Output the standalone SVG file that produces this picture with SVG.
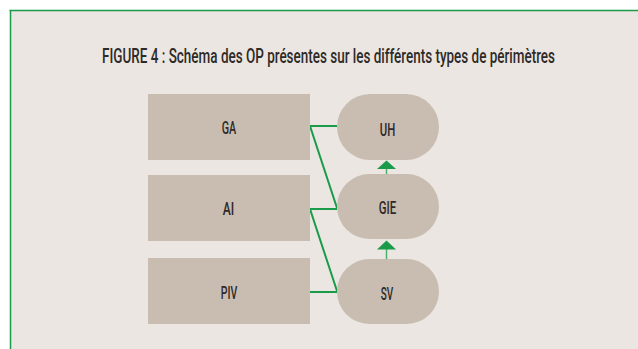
<svg xmlns="http://www.w3.org/2000/svg" width="638" height="349" viewBox="0 0 638 349">
<style>
.box{fill:#c9bdb2}
.lbl{font-family:Roboto,"Liberation Sans",Arial,sans-serif;font-weight:500;font-size:18px;fill:#2e2a28;text-anchor:middle}
.con{stroke:#1a9b4a;stroke-width:2;fill:none}
.stem{stroke:#4cb06a;stroke-width:1.5}
.head{fill:#1a9b4a}
</style>
<rect x="0" y="0" width="638" height="349" fill="#ffffff"/>
<rect x="10" y="10.5" width="628" height="338.5" fill="#ebe6e1"/>
<line x1="9.5" y1="10.5" x2="638" y2="10.5" stroke="#1a9b4a" stroke-width="1.5"/>
<line x1="10.5" y1="10" x2="10.5" y2="349" stroke="#1a9b4a" stroke-width="1.5"/>
<text transform="translate(328.5 63.3) scale(0.72 1)" x="0" y="0" font-family="Roboto,'Liberation Sans',Arial,sans-serif" font-weight="500" font-size="19.5" fill="#2e2a28" text-anchor="middle" textLength="629" lengthAdjust="spacingAndGlyphs">FIGURE 4 : Schéma des OP présentes sur les différents types de périmètres</text>
<g id="connectors">
<polyline class="con" points="337,126 310,126 337,208"/>
<polyline class="con" points="337,209 310,209 337,291"/>
<line class="con" x1="310" y1="292" x2="337" y2="292"/>
<line class="stem" x1="386.5" y1="168" x2="386.5" y2="174"/>
<polygon class="head" points="386.5,160.5 377,169 396,169"/>
<line class="stem" x1="386.5" y1="249" x2="386.5" y2="259"/>
<polygon class="head" points="386.5,240.5 377,249.5 396,249.5"/>
</g>
<g id="GA"><rect class="box" x="148" y="94" width="162" height="66"/><text class="lbl" x="229" y="133.5" textLength="14.5" lengthAdjust="spacingAndGlyphs">GA</text></g>
<g id="AI"><rect class="box" x="148" y="175" width="162" height="66"/><text class="lbl" x="228.5" y="214.5" textLength="11.5" lengthAdjust="spacingAndGlyphs">AI</text></g>
<g id="PIV"><rect class="box" x="148" y="258" width="162" height="66"/><text class="lbl" x="229" y="298.5" textLength="16.5" lengthAdjust="spacingAndGlyphs">PIV</text></g>
<g id="UH"><rect class="box" x="337" y="94" width="102" height="66" rx="33"/><text class="lbl" x="387.5" y="135.5" textLength="15.5" lengthAdjust="spacingAndGlyphs">UH</text></g>
<g id="GIE"><rect class="box" x="337" y="174" width="102" height="65" rx="32.5"/><text class="lbl" x="387.5" y="214" textLength="17.5" lengthAdjust="spacingAndGlyphs">GIE</text></g>
<g id="SV"><rect class="box" x="337" y="259" width="102" height="65" rx="32.5"/><text class="lbl" x="387" y="299.5" textLength="12.5" lengthAdjust="spacingAndGlyphs">SV</text></g>
</svg>
